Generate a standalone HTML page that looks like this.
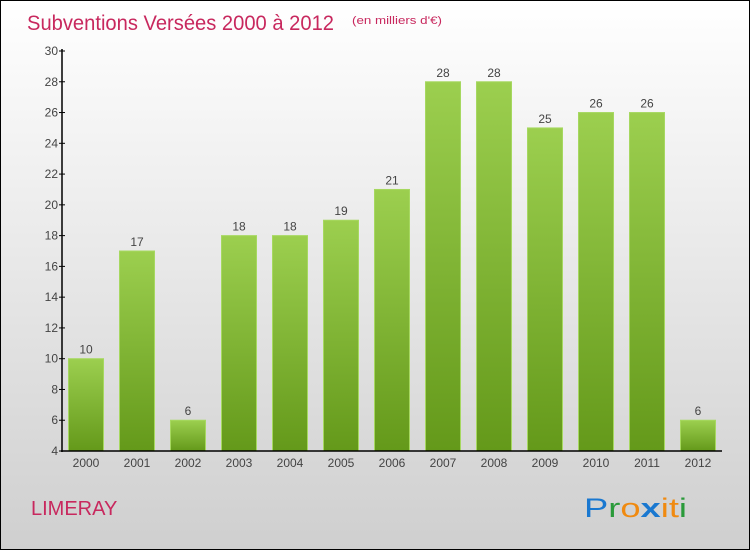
<!DOCTYPE html>
<html><head><meta charset="utf-8"><style>
body{margin:0;width:750px;height:550px;overflow:hidden}
#c{position:absolute;left:0;top:0;width:748px;height:548px;border:1px solid #000;background:linear-gradient(#fff,#cfcfcf)}
text{font-family:"Liberation Sans",sans-serif}
</style></head><body>
<div id="c">
<svg id="s" width="750" height="550">
<defs><linearGradient id="g" x1="0" y1="0" x2="0" y2="1"><stop offset="0" stop-color="#9ccf4f"/><stop offset="1" stop-color="#64991a"/></linearGradient></defs>
<text x="26" y="29" font-size="21" textLength="307" lengthAdjust="spacingAndGlyphs" fill="#c8285e">Subventions Versées 2000 à 2012</text>
<text x="351" y="23" font-size="11" textLength="90" lengthAdjust="spacingAndGlyphs" fill="#c8285e">(en milliers d'€)</text>
<text x="30" y="514" font-size="20" fill="#c8285e">LIMERAY</text>
<text x="583" y="516" font-size="27" textLength="103" lengthAdjust="spacingAndGlyphs"><tspan fill="#1a78d0">P</tspan><tspan fill="#2a9a3a">r</tspan><tspan fill="#f08a10">o</tspan><tspan fill="#1a78d0" font-weight="bold">x</tspan><tspan fill="#f08a10">it</tspan><tspan fill="#2a9a3a">i</tspan></text>
<g id="plot"></g>
</svg></div>
<script>
const years=["2000","2001","2002","2003","2004","2005","2006","2007","2008","2009","2010","2011","2012"];
const values=[10,17,6,18,18,19,21,28,28,25,26,26,6];
const ticks=[4,6,8,10,12,14,16,18,20,22,24,26,28,30];
const NS="http://www.w3.org/2000/svg";
const p=document.getElementById('plot');
const y=v=>450-(v-4)*400/26;
const x=i=>60+i*51;
function mk(t,a,parent){const e=document.createElementNS(NS,t);for(const k in a)e.setAttribute(k,a[k]);(parent||p).appendChild(e);return e;}
years.forEach((yr,i)=>{
 const r=mk('rect',{x:x(i)+7.5,y:y(values[i]),width:35,height:450-y(values[i]),fill:'url(#g)',stroke:'#a6d860','stroke-width':1});
 
 
 const t=mk('text',{x:x(i)+25,y:y(values[i])-5,'font-size':12,fill:'#444','text-anchor':'middle'});t.textContent=values[i];
 
 
 const l=mk('text',{x:x(i)+25,y:466,'font-size':12,fill:'#444','text-anchor':'middle'});l.textContent=yr;
 
 
});
ticks.forEach(v=>{
 mk('line',{x1:58,x2:64,y1:y(v),y2:y(v),stroke:'#000'});
 const t=mk('text',{x:57,y:y(v)+4,'font-size':12,fill:'#444','text-anchor':'end'});t.textContent=v;
 
 
});
const ya=mk('line',{x1:61,x2:61,y1:48,y2:451,stroke:'#000','stroke-width':1.5});


const xa=mk('line',{x1:60,x2:721,y1:450,y2:450,stroke:'#000','stroke-width':1.5});


</script>
</body></html>
